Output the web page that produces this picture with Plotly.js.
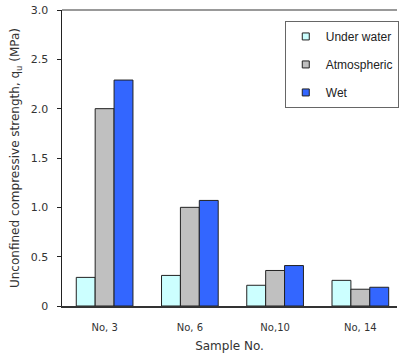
<!DOCTYPE html>
<html><head><meta charset="utf-8">
<script src="https://cdn.plot.ly/plotly-3.0.1.min.js"></script>
<style>html,body{margin:0;padding:0;background:#fff;overflow:hidden}</style>
</head><body>
<div id="chart" style="width:399px;height:354px"></div>
<script>
const categories = ["No, 3", "No, 6", "No,10", "No, 14"];
const underWater = [0.29, 0.31, 0.21, 0.26];
const atmospheric = [2.00, 1.00, 0.36, 0.17];
const wet = [2.29, 1.07, 0.41, 0.19];
const seriesNames = ["Under water", "Atmospheric", "Wet"];
const yTickVals = [0, 0.5, 1.0, 1.5, 2.0, 2.5, 3.0];
const yTickText = ["0", "0.5", "1.0", "1.5", "2.0", "2.5", "3.0"];

const colors = ["#CCFFFF", "#C0C0C0", "#3366FF"];
const values = [underWater, atmospheric, wet];
const barTraces = values.map((v, i) => ({
  type: "bar", x: categories, y: v, name: seriesNames[i],
  legendgroup: "g" + i, showlegend: false,
  marker: {color: colors[i], line: {color: "#222", width: 1}}
}));
// legend-only entries with small square keys (no data drawn)
const legendTraces = seriesNames.map((n, i) => ({
  type: "scatter", mode: "markers", x: [null], y: [null], name: n,
  legendgroup: "g" + i, showlegend: true, hoverinfo: "skip",
  marker: {symbol: "square", size: 7, color: colors[i], line: {color: "#222", width: 1}}
}));
const ff = "DejaVu Sans, Verdana, sans-serif";
const layout = {
  width: 399, height: 354,
  margin: {l: 62, r: 0, t: 10, b: 48},
  paper_bgcolor: "#fff", plot_bgcolor: "#fff",
  font: {family: ff, size: 11, color: "#333"},
  barmode: "group", bargap: 0.335, bargroupgap: 0,
  showlegend: true,
  legend: {x: 0.665, y: 0.963, xanchor: "left", yanchor: "top",
    bgcolor: "#fff", bordercolor: "#666", borderwidth: 1,
    font: {family: "Liberation Sans, Arial, sans-serif", size: 12, color: "#222"},
    traceorder: "grouped", tracegroupgap: 9, itemwidth: 30},
  xaxis: {type: "category", range: [-0.5, 3.43], showgrid: false,
    showline: true, linecolor: "#333", linewidth: 2, ticks: "",
    ticklabelstandoff: 11,
    tickfont: {family: ff, size: 10, color: "#333"},
    title: {text: "Sample No.", standoff: 10, font: {family: ff, size: 12, color: "#333"}}},
  yaxis: {range: [0, 3.0], tickvals: yTickVals, ticktext: yTickText, showgrid: false,
    zeroline: false, showline: true, linecolor: "#222", linewidth: 1.5,
    ticks: "outside", ticklen: 4, tickcolor: "#222", ticklabelstandoff: 6,
    tickfont: {family: ff, size: 11, color: "#333"},
    title: {text: "Unconfined compressive strength, q<sub>u</sub> (MPa)", standoff: 8,
      font: {family: ff, size: 12, color: "#333"}}},
  shapes: [{type: "line", xref: "paper", yref: "paper", x0: 0, x1: 1, y0: 1, y1: 1,
    line: {color: "#777", width: 1.5}}]
};
Plotly.newPlot("chart", barTraces.concat(legendTraces), layout, {displayModeBar: false, staticPlot: true});
</script>
</body></html>
